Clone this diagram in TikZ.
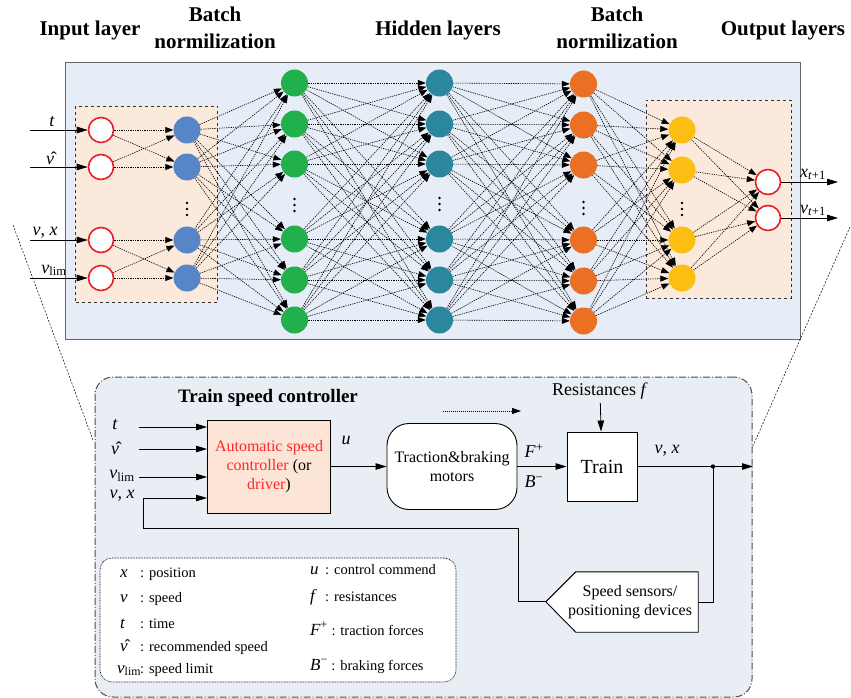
\documentclass[tikz,border=0pt]{standalone}
\usepackage{fontspec}
\setmainfont{Liberation Serif}
\usetikzlibrary{shapes}
\usetikzlibrary {arrows.meta}

\definecolor{netback}{RGB}{230,237,246}
\definecolor{groupback}{RGB}{251,234,219}
\definecolor{frameback}{RGB}{233,238,244}
\definecolor{ctrlfill}{RGB}{252,228,214}
\definecolor{iored}{RGB}{232,30,36}
\definecolor{ctrlred}{RGB}{255,40,40}
\definecolor{bnblue}{RGB}{86,134,200}
\definecolor{hidgreen}{RGB}{34,176,76}
\definecolor{hidteal}{RGB}{42,135,158}
\definecolor{bnorange}{RGB}{236,112,36}
\definecolor{outyellow}{RGB}{252,190,18}

\newcommand{\vhat}{\^{\textit{v}}}
\newcommand{\vlim}{\textit{v}\textsubscript{lim}}
\newcommand{\legsym}[1]{{\fontsize{17}{18}\selectfont #1}}

\tikzset{neuron/.style = {
    shape=circle, minimum size = 27pt, inner sep=0pt
}}
\tikzset{iounit/.style = {
    shape=circle, draw=iored, line width=1.6pt, fill=white,
    minimum size = 25pt, inner sep=0pt
}}
\tikzset{link/.style = {
    line width=0.6pt, dash pattern=on 1.3pt off 1pt,
    -{Triangle[length=8pt,width=6pt]}
}}
\tikzset{arr/.style = {
    line width=0.8pt, -{Triangle[length=11pt,width=6.5pt]}
}}
\tikzset{dotarr/.style = {
    line width=0.8pt, dash pattern=on 1pt off 1pt,
    -{Triangle[length=9pt,width=6pt]}
}}
\tikzset{title/.style = {
    font=\fontsize{21}{27}\selectfont\bfseries, align=center
}}
\tikzset{sym/.style = {
    font=\fontsize{18}{20}\selectfont, inner sep=1pt
}}
\tikzset{blocktext/.style = {
    font=\fontsize{16}{19}\selectfont, align=center, inner sep=0pt
}}
\tikzset{legendtext/.style = {
    font=\fontsize{14.5}{16}\selectfont, anchor=base west, inner sep=0pt
}}
\tikzset{zoomline/.style = {
    line width=0.5pt, dash pattern=on 2pt off 1.5pt
}}

\begin{document}
\begin{tikzpicture}[x=1pt, y=-1pt]
  \useasboundingbox (0,0) rectangle (851,698);

  % layer titles
  \node[title] (tinput) at (90,30) {Input layer};
  \node[title] (tbnA) at (215,28) {Batch\\normilization};
  \node[title] (thidden) at (438,30) {Hidden layers};
  \node[title] (tbnB) at (617,28) {Batch\\normilization};
  \node[title] (toutput) at (783,30) {Output layers};

  % network background
  \node (net) at (432.5,201) [shape=rectangle, draw=black!60, line width=1pt,
    fill=netback, minimum width=735pt, minimum height=276pt] {};
  \node (ingroup) at (146.5,204) [shape=rectangle, draw=black!80, dashed,
    line width=0.9pt, fill=groupback, minimum width=142pt, minimum height=196pt] {};
  \node (outgroup) at (718.5,199) [shape=rectangle, draw=black!80, dashed,
    line width=0.9pt, fill=groupback, minimum width=145pt, minimum height=198pt] {};

  % neurons
  \foreach \y [count=\i] in {130,167,240,278} {
    \node[iounit] (in\i) at (101,\y) {};
    \node[neuron, fill=bnblue] (bna\i) at (187,\y) {};
  }
  \foreach \y [count=\i] in {83,124,164,239,280,320} {
    \node[neuron, fill=hidgreen] (hida\i) at (294.5,\y) {};
    \node[neuron, fill=hidteal] (hidb\i) at (439.5,\y) {};
    \node[neuron, fill=bnorange] (bnb\i) at (583.5,\y+1) {};
  }
  \foreach \y [count=\i] in {130,170,240,278} {
    \node[neuron, fill=outyellow] (yel\i) at (682,\y) {};
  }
  \node[iounit] (out1) at (768,182) {};
  \node[iounit] (out2) at (768,218) {};

  \foreach \x/\y in {187/209,294.5/205,439.5/204,583.5/208,682/209}
    \foreach \d in {-6,0,6}
      \fill (\x,\y+\d) circle (1.4pt);

  % connections
  \foreach \i/\j in {1/1,1/2,2/1,2/2,3/3,3/4,4/3,4/4}
    \draw[link] (in\i) -- (bna\j);
  \foreach \i in {1,...,4}
    \foreach \j in {1,...,6}
      \draw[link] (bna\i) -- (hida\j);
  \foreach \i in {1,...,6}
    \foreach \j in {1,...,6} {
      \draw[link] (hida\i) -- (hidb\j);
      \draw[link] (hidb\i) -- (bnb\j);
    }
  \foreach \i in {1,...,6}
    \foreach \j in {1,...,4}
      \draw[link] (bnb\i) -- (yel\j);
  \foreach \i in {1,...,4}
    \foreach \j in {1,2}
      \draw[link] (yel\i) -- (out\j);

  % network inputs and outputs
  \foreach \i/\y in {1/130,2/167,3/240,4/278} {
    \coordinate (src\i) at (30,\y);
    \draw[arr] (src\i) -- (in\i);
  }
  \node[sym, anchor=south] (lt) at (52,128) {\textit{t}};
  \node[sym, anchor=south] (lvh) at (50,166) {\vhat};
  \node[sym, anchor=south] (lvx) at (45,239) {\textit{v}, \textit{x}};
  \node[sym, anchor=south] (lvl) at (54,277) {\vlim};
  \coordinate (dst1) at (838,182);
  \coordinate (dst2) at (838,218);
  \draw[arr] (out1) -- (dst1);
  \draw[arr] (out2) -- (dst2);
  \node[sym, anchor=south] (lxo) at (813,181) {\textit{x}\textsubscript{\textit{t}+1}};
  \node[sym, anchor=south] (lvo) at (813,217) {\textit{v}\textsubscript{\textit{t}+1}};

  % train speed controller
  \node (frame) at (423.5,537) [shape=rectangle, rounded corners=18pt, draw=black!70,
    line width=1pt, dash pattern=on 7pt off 2pt on 1pt off 2pt, fill=frameback,
    minimum width=657pt, minimum height=320pt] {};

  \coordinate (zl1) at (13,225);
  \coordinate (zl2) at (93,440);
  \coordinate (zr1) at (850,227);
  \coordinate (zr2) at (752,448);
  \draw[zoomline] (zl1) -- (zl2);
  \draw[zoomline] (zr1) -- (zr2);

  \node[font=\fontsize{19}{20}\selectfont\bfseries] (tctrl) at (268,398) {Train speed controller};

  \node (asc) at (269,466.5) [shape=rectangle, draw=black, line width=0.9pt, fill=ctrlfill,
    minimum width=123pt, minimum height=93pt, blocktext]
    {{\color{ctrlred}Automatic speed}\\{\color{ctrlred}controller} (or\\{\color{ctrlred}driver})};
  \node (motor) at (452,466.5) [shape=rectangle, rounded corners=22pt, draw=black,
    line width=0.9pt, fill=white, minimum width=130pt, minimum height=86pt, blocktext]
    {Traction\&braking\\motors};
  \node (train) at (602,466.5) [shape=rectangle, draw=black, line width=0.9pt, fill=white,
    minimum width=70pt, minimum height=69pt, font=\fontsize{20}{22}\selectfont] {Train};

  % sensor block, arrow shaped
  \node (sensor) at (637,602) [shape=rectangle, minimum width=122pt, minimum height=60pt,
    blocktext] {};
  \draw[line width=0.9pt, fill=white] (sensor.north east) -- (sensor.north west)
    -- ++(-30,30) coordinate (sensortip) -- (sensor.south west) -- (sensor.south east) -- cycle;
  \node[blocktext] (sensortext) at (630,602) {Speed sensors/\\positioning devices};

  % controller inputs
  \foreach \n/\y in {1/427,2/449,3/477} {
    \coordinate (cin\n) at (139,\y);
    \draw[arr] (cin\n) -- (207,\y);
  }
  \node[sym] (ct) at (115,425) {\textit{t}};
  \node[sym] (cvh) at (115,448) {\vhat};
  \node[sym] (cvl) at (122,476) {\vlim};
  \node[sym] (cvx) at (122,496) {\textit{v}, \textit{x}};

  % forward path
  \draw[arr] (asc.east) -- (motor.west);
  \node[sym] (lu) at (346,440) {\textit{u}};
  \draw[arr] (motor.east) -- (train.west);
  \node[sym] (lf) at (534,451) {\textit{F}\textsuperscript{+}};
  \node[sym] (lb) at (534,482) {\textit{B}\textsuperscript{\char"2212}};
  \node[font=\fontsize{18}{20}\selectfont] (res) at (600,391) {Resistances \textit{f}};
  \draw[arr] (res) -- (train);
  \coordinate (da1) at (443,411);
  \coordinate (da2) at (521,411);
  \draw[dotarr] (da1) -- (da2);

  \coordinate (jn) at (713,466.5);
  \coordinate (vxout) at (753,466.5);
  \draw[arr] (train.east) -- (vxout);
  \fill (jn) circle (2.2pt);
  \node[sym] (lvxo) at (667,451) {\textit{v}, \textit{x}};

  % feedback
  \draw[line width=0.8pt] (sensor.east) -| (jn);
  \coordinate (fb1) at (518,528);
  \coordinate (fb2) at (143,528);
  \coordinate (vxin) at (207,498);
  \draw[arr] (sensortip) -| (fb1) -- (fb2) |- (vxin);

  % legend
  \node (legend) at (278,620) [shape=rectangle, rounded corners=12pt, draw=black,
    line width=0.6pt, dash pattern=on 0.8pt off 0.8pt, fill=white,
    minimum width=356pt, minimum height=124pt] {};
  \node[legendtext] (kx) at (120,577) {\makebox[20pt][l]{\legsym{\textit{x}}}: position};
  \node[legendtext] (kv) at (120,602) {\makebox[20pt][l]{\legsym{\textit{v}}}: speed};
  \node[legendtext] (kt) at (120,628) {\makebox[20pt][l]{\legsym{\textit{t}}}: time};
  \node[legendtext] (kvh) at (120,651) {\makebox[20pt][l]{\legsym{\vhat}}: recommended speed};
  \node[legendtext] (kvl) at (117,673) {\makebox[23pt][l]{\legsym{\vlim}}: speed limit};
  \node[legendtext] (ku) at (310,574) {\makebox[15pt][l]{\legsym{\textit{u}}}: control commend};
  \node[legendtext] (kf) at (310,601) {\makebox[15pt][l]{\legsym{\textit{f}}}: resistances};
  \node[legendtext] (kF) at (310,635) {\legsym{\textit{F}\textsuperscript{+}} : traction forces};
  \node[legendtext] (kB) at (310,670) {\legsym{\textit{B}\textsuperscript{\char"2212}} : braking forces};
\end{tikzpicture}
\end{document}
